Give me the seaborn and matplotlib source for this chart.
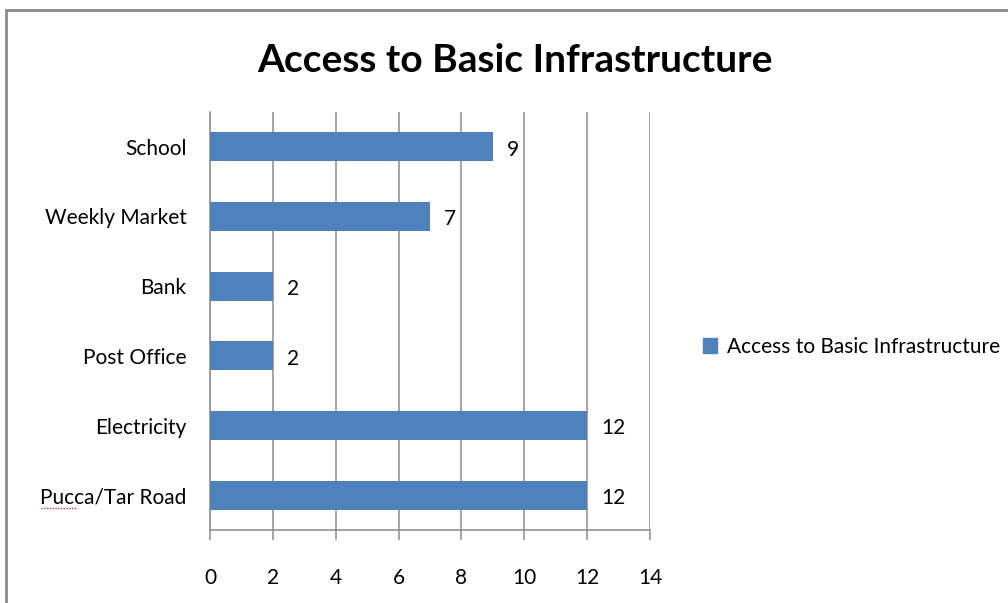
import matplotlib
matplotlib.use("Agg")
import matplotlib.pyplot as plt
import matplotlib.patches as mpatches
import matplotlib.lines as mlines
import seaborn as sns
import pandas as pd

# chart data
categories = ["School", "Weekly Market", "Bank", "Post Office", "Electricity", "Pucca/Tar Road"]
values = [9, 7, 2, 2, 12, 12]
x_ticks = [0, 2, 4, 6, 8, 10, 12, 14]
title = "Access to Basic Infrastructure"
series_name = "Access to Basic Infrastructure"

bar_color = "#4F81BD"
grid_color = "#8C8C8C"

sns.set_style("white")
plt.rcParams["font.family"] = ["Lato", "DejaVu Sans"]
plt.rcParams["text.color"] = "black"
plt.rcParams["xtick.color"] = grid_color
plt.rcParams["ytick.color"] = grid_color
plt.rcParams["xtick.labelcolor"] = "black"
plt.rcParams["ytick.labelcolor"] = "black"

df = pd.DataFrame({"Facility": categories, "Count": values})

fig = plt.figure(figsize=(10.08, 6.03), dpi=100)
ax = fig.add_axes([210 / 1008, 1 - 530 / 603, 440 / 1008, 418 / 603])

# outer chart border
fig.patches.append(mpatches.Rectangle((6 / 1008, -0.05), 1.1, 1 - 10 / 603 + 0.05,
                                      transform=fig.transFigure, fill=False,
                                      edgecolor="#8A8A8A", linewidth=2))

sns.barplot(data=df, x="Count", y="Facility", orient="h", color=bar_color,
            width=0.42, saturation=1, ax=ax, zorder=3, linewidth=0)

ax.set_xlim(0, 14)
ax.set_ylim(len(categories) - 0.5, -0.5)
ax.set_xticks(x_ticks)
ax.set_xticklabels([str(t) for t in x_ticks], fontsize=15)
ax.xaxis.grid(True, color=grid_color, linewidth=1.1, zorder=0)
ax.yaxis.grid(False)
ax.set_axisbelow(True)

# category ticks at the boundaries, labels centred
ax.set_yticks(range(len(categories)))
ax.set_yticklabels(categories, fontsize=15)
ax.set_yticks([i - 0.5 for i in range(len(categories) + 1)], minor=True)
ax.tick_params(axis="y", which="major", length=0, pad=17)
ax.tick_params(axis="y", which="minor", length=6, width=1.1)
ax.tick_params(axis="x", which="major", length=7, width=1.1,
               direction="out", pad=20, bottom=True)

for side in ["top", "right"]:
    ax.spines[side].set_visible(False)
for side in ["left", "bottom"]:
    ax.spines[side].set_color(grid_color)
    ax.spines[side].set_linewidth(1.1)

ax.set_xlabel("")
ax.set_ylabel("")

for i, v in enumerate(values):
    ax.text(v + 0.45, i + 0.04, str(v), va="center", ha="left", fontsize=15)

fig.text(515 / 1008, 1 - 60 / 603, title, ha="center", va="center",
         fontsize=28, fontweight="bold")

# spell-check squiggle under "Pucca"
fig.lines.append(mlines.Line2D([41 / 1008, 77 / 1008], [1 - 508 / 603, 1 - 508 / 603],
                               transform=fig.transFigure, color="#E03030",
                               linewidth=1, linestyle=(0, (1, 1))))

handle = mpatches.Patch(color=bar_color, label=series_name)
fig.legend(handles=[handle], loc="center left", bbox_to_anchor=(684 / 1008, 1 - 347 / 603),
           frameon=False, fontsize=15, handlelength=0.7, handleheight=0.7,
           handletextpad=0.45)

fig.savefig("out.png", dpi=100)
